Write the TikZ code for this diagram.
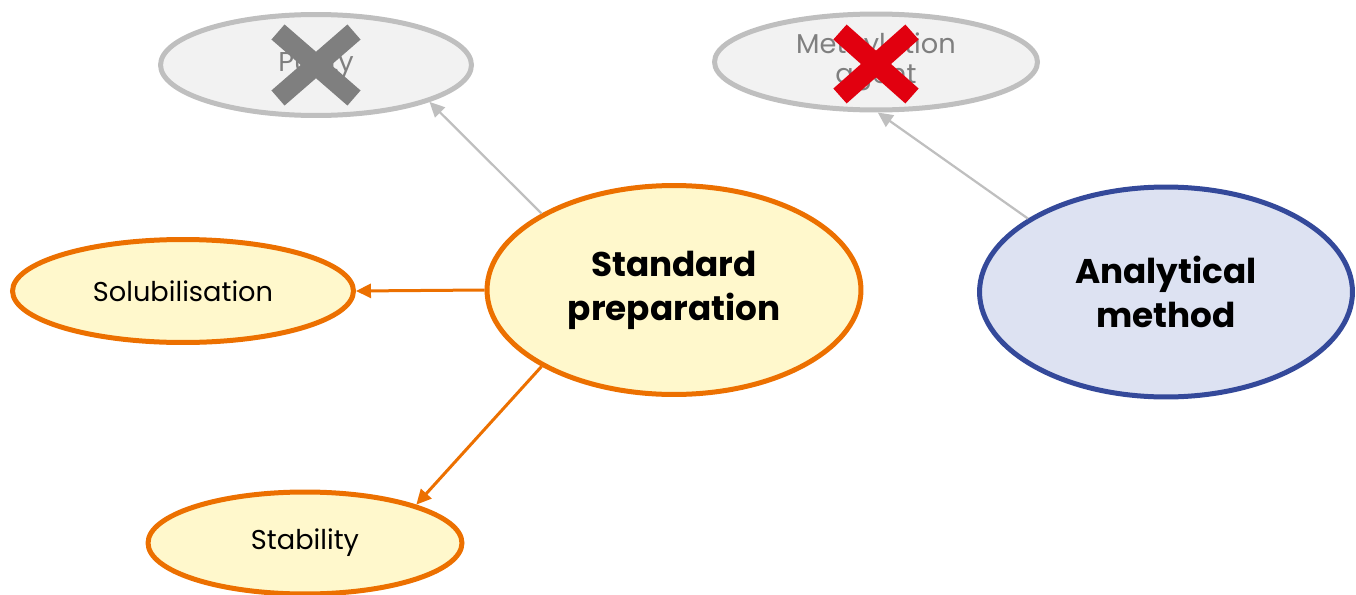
\documentclass[tikz,border=0pt]{standalone}
\usepackage{fontspec}
\setmainfont{Poppins}
\usepackage{xcolor}
\usetikzlibrary{shapes.geometric,arrows.meta}

\definecolor{greyline}{HTML}{BFBFBF}
\definecolor{greyfill}{HTML}{F2F2F2}
\definecolor{greytext}{HTML}{7F7F7F}
\definecolor{crossgrey}{HTML}{7F7F7F}
\definecolor{crossred}{HTML}{E1000F}
\definecolor{prepline}{HTML}{EC7000}
\definecolor{prepfill}{HTML}{FFF8CC}
\definecolor{methline}{HTML}{34499A}
\definecolor{methfill}{HTML}{DDE2F2}

\begin{document}
\begin{tikzpicture}[x=0.02cm,y=-0.02cm,
    bubble/.style={ellipse,line width=0.1cm,align=center,inner sep=0pt},
    dropped/.style={bubble,draw=greyline,fill=greyfill,text=greytext,
        font=\fontsize{15.5}{17}\selectfont},
    subtopic/.style={bubble,draw=prepline,fill=prepfill,
        font=\fontsize{15.5}{17}\selectfont},
    topic/.style={bubble,font=\bfseries\fontsize{19.5}{25}\selectfont},
    greyarrow/.style={draw=greyline,line width=0.045cm,
        -{Triangle[length=0.3cm,width=0.28cm]}},
    preparrow/.style={draw=prepline,line width=0.06cm,
        -{Triangle[length=0.3cm,width=0.28cm]}},
    cross/.style={line width=0.4cm}]
    \useasboundingbox (0,0) rectangle (1356,595);

    % main topics
    \node[topic,draw=prepline,fill=prepfill,minimum width=7.48cm,minimum height=4.18cm]
        (std) at (674,290) {Standard\\preparation};
    \node[topic,draw=methline,fill=methfill,minimum width=7.46cm,minimum height=4.2cm]
        (ana) at (1166,292) {Analytical\\method};

    % sub topics
    \node[subtopic,minimum width=6.82cm,minimum height=2.06cm] (sol) at (183,291) {Solubilisation};
    \node[subtopic,minimum width=6.28cm,minimum height=2.04cm] (stab) at (305,543) {Stability};

    % dropped topics
    \node[dropped,minimum width=6.22cm,minimum height=2.02cm] (pur) at (316,65) {Purity};
    \node[dropped,minimum width=6.46cm,minimum height=1.92cm] (meth) at (876,62) {Methylation\\agent};

    % connectors
    \draw[greyarrow] (std.150) -- (pur.-18);
    \draw[greyarrow] (ana.152) -- (meth.-88);
    \draw[preparrow] (std.180) -- (sol.0);
    \draw[preparrow] (std.210) -- (stab.19);

    % crosses
    \draw[cross,crossgrey] (pur.center) ++(-38,-33) -- ++(76,66);
    \draw[cross,crossgrey] (pur.center) ++(38,-33) -- ++(-76,66);
    \draw[cross,crossred] (meth.center) ++(-36,-30) -- ++(72,64);
    \draw[cross,crossred] (meth.center) ++(36,-30) -- ++(-72,64);
\end{tikzpicture}
\end{document}
